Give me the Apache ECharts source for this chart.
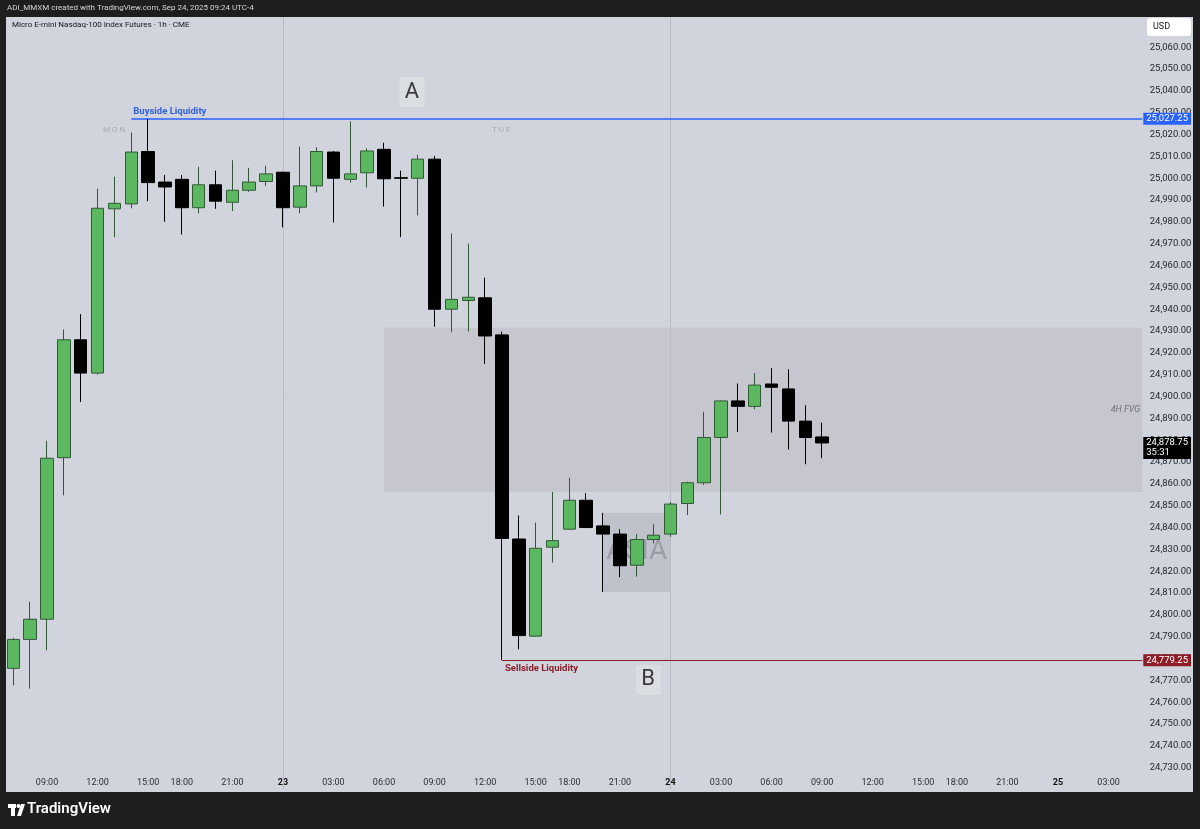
<!DOCTYPE html>
<html>
<head>
<meta charset="utf-8">
<script src="https://cdn.jsdelivr.net/npm/echarts@6/dist/echarts.min.js"></script>
<style>
  html, body { margin: 0; padding: 0; background: #1e1e1e; }
  #chart { width: 1200px; height: 829px; }
</style>
</head>
<body>
<div id="chart"></div>
<script>
  // hourly slots, 17:00 is the CME maintenance break; midnight shows the day number
  const hours = [
    '07:00','08:00','09:00','10:00','11:00','12:00','13:00','14:00','15:00','16:00',
    '18:00','19:00','20:00','21:00','22:00','23:00',
    '23','01:00','02:00','03:00','04:00','05:00','06:00','07:00','08:00','09:00','10:00',
    '11:00','12:00','13:00','14:00','15:00','16:00','18:00','19:00','20:00','21:00','22:00','23:00',
    '24','01:00','02:00','03:00','04:00','05:00','06:00','07:00','08:00','09:00','10:00',
    '11:00','12:00','13:00','14:00','15:00','16:00','18:00','19:00','20:00','21:00','22:00','23:00',
    '25','01:00','02:00','03:00','04:00','05:00'
  ]
  const tickLabels = ['09:00', '12:00', '15:00', '18:00', '21:00', '03:00', '06:00', '23', '24', '25']
  const dayLabels = ['23', '24', '25']

  const opens = [
    24775.5, 24788.75, 24798, 24872, 24926, 24910.75, 24986, 24988.25, 25012.25, 24998.25,
    24999.5, 24986.5, 24997, 24989, 24994.5, 24998.5, 25002.75, 24986.75, 24996.5, 25012,
    24999.5, 25002.5, 25013.25, 25000.25, 25000, 25008.75, 24940, 24944, 24945.25, 24928.25,
    24834.75, 24790.25, 24831, 24839.25, 24852.5, 24840.75, 24837, 24822.75, 24834.5, 24837,
    24851, 24860.5, 24881.25, 24898, 24895.5, 24905.75, 24903.5, 24888.75, 24881.5
  ]
  const closes = [
    24788.75, 24798, 24871.75, 24926, 24910.75, 24986.25, 24988.5, 25012, 24998, 24996,
    24986.5, 24997, 24989.5, 24994.5, 24998.25, 25002, 24986.5, 24996.5, 25012.25, 25000,
    25002, 25012.5, 24999.75, 25000, 25008.75, 24940, 24944.5, 24945.5, 24927.75, 24835,
    24790.5, 24830.5, 24834, 24852.5, 24840, 24837, 24822.5, 24834.5, 24836.5, 24850.75,
    24860.5, 24881.25, 24898, 24895.5, 24905.25, 24904.25, 24888.75, 24881.25, 24878.75
  ]
  const lows = [
    24767.75, 24766.25, 24783.75, 24854.75, 24897.5, 24910, 24973, 24986.25, 24989.5, 24980,
    24974.25, 24984, 24986, 24985, 24993.75, 24996.5, 24977.5, 24984, 24993.5, 24979.75,
    24998, 24995.75, 24987, 24973, 24983, 24932, 24929.5, 24929.75, 24915, 24779.25,
    24784.25, 24790, 24824, 24839, 24839.75, 24810.5, 24817.25, 24817.5, 24832.75, 24835.75,
    24845.75, 24859.5, 24846, 24883.75, 24894.25, 24883.5, 24875.75, 24869, 24871.75
  ]
  const highs = [
    24789.5, 24806, 24879.75, 24930.75, 24937.75, 24995.25, 25000.75, 25021, 25027.25, 25001.5,
    25001.5, 25005.25, 25003.5, 25008.25, 25004.75, 25005.75, 25003, 25014.5, 25014.25, 25012.5,
    25026, 25013.75, 25016.25, 25003.5, 25010.75, 25010.25, 24974.75, 24970, 24954.5, 24929.75,
    24845.5, 24842.25, 24856.25, 24862.75, 24855.75, 24846.75, 24839.25, 24837, 24841.5, 24851.75,
    24861, 24893, 24898.25, 24906, 24910.75, 24913, 24912.5, 24896, 24888
  ]

  const buysideLevel = 25027.25
  const sellsideLevel = 24779.25
  const lastPrice = 24878.75
  const countdown = '35:31'
  const fvgRange = [24931.5, 24856.25]
  const asiaRange = [24846.75, 24810.5]

  const noteTexts = ['A', 'B']
  const noteSlots = [23.66, 37.67]
  const notePrices = [25039.5, 24770.25]

  const fmt = v => v.toLocaleString('en-US', {minimumFractionDigits: 2, maximumFractionDigits: 2})
  const candles = opens.map((o, i) => [o, closes[i], lows[i], highs[i]])
  const notes = noteSlots.map((x, i) => ({value: [x, notePrices[i]], name: noteTexts[i]}))
  const lastSlot = hours.length - 1

  const font = 'Roboto, "Noto Sans", sans-serif'
  const chart = echarts.init(document.getElementById('chart'))

  // little tag on the price scale, drawn as the end label of an invisible line
  function priceTag(level, bg, text, extra) {
    return [
      {
        coord: [lastSlot - 1, level],
        lineStyle: {color: 'rgba(0,0,0,0)', width: 0},
        label: Object.assign({
          show: true, position: 'end', distance: 1, formatter: text,
          backgroundColor: bg, color: '#fff', fontSize: 9.5, lineHeight: 10, padding: [1, 3]
        }, extra || {})
      },
      {coord: [lastSlot, level]}
    ]
  }

  chart.setOption({
    animation: false,
    backgroundColor: '#d1d4dc',
    textStyle: {fontFamily: font},
    grid: {left: 4.9, right: 49.3, top: 3.6, bottom: 39.5},
    xAxis: [
      {
        type: 'category',
        data: hours,
        boundaryGap: true,
        axisLine: {show: false},
        axisTick: {show: false},
        splitLine: {show: false},
        axisLabel: {
          interval: (i, v) => tickLabels.includes(v),
          margin: -6.5,
          verticalAlign: 'middle',
          color: '#2a2e39',
          fontSize: 9,
          formatter: v => dayLabels.includes(v) ? '{b|' + v + '}' : v,
          rich: {b: {fontWeight: 'bold', fontSize: 9, color: '#111'}}
        }
      },
      {type: 'value', min: -0.5, max: hours.length - 0.5, show: false}
    ],
    yAxis: {
      type: 'value',
      position: 'right',
      min: 24720,
      max: 25080,
      interval: 10,
      axisLine: {show: false},
      axisTick: {show: false},
      splitLine: {show: false},
      axisLabel: {
        margin: -1,
        color: '#1e222d',
        fontSize: 9.5,
        formatter: v => (v < 24730 || v > 25060) ? '' : fmt(v)
      }
    },
    series: [
      {
        type: 'candlestick',
        data: candles,
        barWidth: 13,
        itemStyle: {
          color: '#5cb860',
          color0: '#000000',
          borderColor: '#2f5a35',
          borderColor0: '#000000',
          borderWidth: 1
        },
        markArea: {
          silent: true,
          data: [
            [
              {
                xAxis: 22, yAxis: fvgRange[0],
                itemStyle: {color: 'rgba(165,163,168,0.26)'},
                label: {show: true, position: 'insideRight', distance: 2, formatter: '4H FVG',
                  fontStyle: 'italic', color: '#6f7179', fontSize: 9}
              },
              {xAxis: lastSlot, yAxis: fvgRange[1]}
            ],
            [
              {
                xAxis: 35, yAxis: asiaRange[0],
                itemStyle: {color: 'rgba(120,122,134,0.2)'},
                label: {show: true, position: 'inside', formatter: 'ASIA',
                  fontSize: 28, color: 'rgba(125,127,136,0.55)'}
              },
              {xAxis: 39, yAxis: asiaRange[1]}
            ]
          ]
        },
        markLine: {
          silent: true,
          z: 1,
          symbol: ['none', 'none'],
          precision: 2,
          data: [
            {xAxis: 16, lineStyle: {color: '#b8bbc3', width: 1, type: 'solid'}, label: {show: false}},
            {xAxis: 39, lineStyle: {color: '#b8bbc3', width: 1, type: 'solid'}, label: {show: false}},
            [
              {
                coord: [7, buysideLevel],
                lineStyle: {color: '#2962ff', width: 1.5, type: 'solid'},
                label: {show: true, position: 'insideStartTop', distance: 2, formatter: 'Buyside Liquidity',
                  color: '#2f5fe0', fontWeight: 'bold', fontSize: 9.5}
              },
              {coord: [lastSlot, buysideLevel]}
            ],
            [
              {
                coord: [29, sellsideLevel],
                lineStyle: {color: '#8b1d27', width: 1.2, type: 'solid'},
                label: {show: true, position: 'insideStartBottom', distance: 3, formatter: 'Sellside Liquidity',
                  color: '#8b1d27', fontWeight: 'bold', fontSize: 9.5}
              },
              {coord: [lastSlot, sellsideLevel]}
            ],
            priceTag(buysideLevel, '#2962ff', fmt(buysideLevel)),
            priceTag(sellsideLevel, '#8e1c26', fmt(sellsideLevel)),
            priceTag(lastPrice, '#000000', fmt(lastPrice) + '\n' + countdown,
              {offset: [0, 5], align: 'left', padding: [1, 3, 1, 3]})
          ]
        }
      },
      {
        type: 'scatter',
        xAxisIndex: 1,
        data: notes,
        symbol: 'rect',
        symbolSize: [25, 30],
        itemStyle: {color: '#dcdee4'},
        silent: true,
        label: {show: true, position: 'inside', formatter: p => p.name, fontSize: 22, color: '#111'}
      }
    ],
    graphic: [
      {type: 'rect', z: 100, shape: {x: 0, y: 0, width: 1200, height: 17}, style: {fill: '#1e1e1e'}},
      {type: 'rect', z: 100, shape: {x: 0, y: 0, width: 6, height: 829}, style: {fill: '#1e1e1e'}},
      {type: 'rect', z: 100, shape: {x: 1193, y: 0, width: 7, height: 829}, style: {fill: '#1e1e1e'}},
      {type: 'rect', z: 100, shape: {x: 0, y: 792, width: 1200, height: 37}, style: {fill: '#1e1e1e'}},
      {type: 'text', z: 101, left: 7, top: 4,
        style: {text: 'ADI_MMXM created with TradingView.com, Sep 24, 2025 09:24 UTC-4',
          fill: '#d6d6d6', font: '8px ' + font}},
      {type: 'text', z: 101, left: 12, top: 21,
        style: {text: 'Micro E-mini Nasdaq-100 Index Futures · 1h · CME', fill: '#131722', font: '8px ' + font}},
      {type: 'rect', z: 101, shape: {x: 1147, y: 18, width: 44, height: 18, r: 3}, style: {fill: '#ffffff'}},
      {type: 'text', z: 102, left: 1153, top: 22, style: {text: 'USD', fill: '#131722', font: '9px ' + font}},
      {type: 'text', z: 101, left: 103, top: 126, style: {text: 'M O N', fill: '#a7aab2', font: '8px ' + font}},
      {type: 'text', z: 101, left: 492, top: 126, style: {text: 'T U E', fill: '#a7aab2', font: '8px ' + font}},
      // TradingView logo
      {type: 'rect', z: 101, shape: {x: 8, y: 804, width: 8, height: 4}, style: {fill: '#ffffff'}},
      {type: 'rect', z: 101, shape: {x: 11, y: 804, width: 4, height: 12}, style: {fill: '#ffffff'}},
      {type: 'circle', z: 101, shape: {cx: 18.5, cy: 806, r: 2}, style: {fill: '#ffffff'}},
      {type: 'polygon', z: 101, shape: {points: [[21, 804], [25, 804], [21, 816], [17, 816]]}, style: {fill: '#ffffff'}},
      {type: 'text', z: 101, left: 27, top: 802,
        style: {text: 'TradingView', fill: '#ffffff', font: '600 15px ' + font}}
    ]
  })
</script>
</body>
</html>
